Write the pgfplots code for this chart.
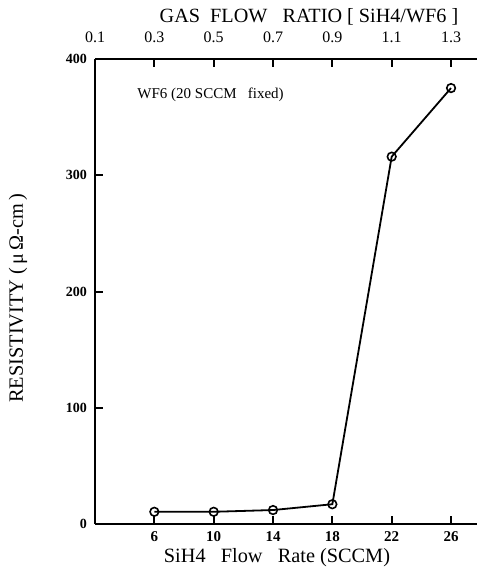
\documentclass[border=0pt]{standalone}
\usepackage{fontspec}
\setmainfont{Liberation Serif}
\usepackage{pgfplots}
\pgfplotsset{compat=1.18}

\pgfplotsset{
  common/.style={
    scale only axis, width=382pt, height=465pt,
    xmin=2, xmax=27.75, ymin=0, ymax=400,
    axis line style={line width=1.6pt},
    tick align=inside, tickwidth=8pt,
    every tick/.append style={black, line width=2pt},
    /pgf/number format/assume math mode=true,
  },
}

\begin{document}
\begin{tikzpicture}
% main axis (bottom + left)
\begin{axis}[
    common,
    axis x line*=bottom, axis y line*=left,
    clip=false,
    xtick={6,10,14,18,22,26},
    ytick={0,100,200,300,400},
    xticklabel style={font=\fontsize{15}{15}\selectfont\bfseries, anchor=base, yshift=-18pt},
    yticklabel style={font=\fontsize{14}{14}\selectfont\bfseries, anchor=east, inner sep=0pt, xshift=-8pt},
    xlabel={SiH4\ \ \ Flow\ \ \ Rate (SCCM)},
    xlabel style={font=\fontsize{20.3}{20.3}\selectfont, at={(axis description cs:0.5,0)},
                  anchor=base, xshift=-9pt, yshift=-38.5pt},
    ylabel={RESISTIVITY (\,μ\,Ω-cm\,)},
    ylabel style={font=\fontsize{20.3}{20.3}\selectfont, at={(axis description cs:-0.2016,0.486)},
                  anchor=center},
  ]
  \addplot[black, line width=1.8pt, mark=o, mark size=4.3pt,
           mark options={fill=white, line width=1.6pt}]
    coordinates {(6,10.5) (10,10.5) (14,12) (18,17) (22,316) (26,375)};
  \node[anchor=base west, inner sep=0pt, font=\fontsize{15}{15}\selectfont] at (axis cs:4.85,366) {WF6 (20 SCCM\ \ \ fixed)};
  \path (axis description cs:-0.2487,-0.1097) (axis description cs:1.0026,1.1269);
\end{axis}
% top axis (gas flow ratio)
\begin{axis}[
    common,
    axis x line*=top, axis y line=none,
    xtick={2,6,10,14,18,22,26},
    xticklabels={0.1,0.3,0.5,0.7,0.9,1.1,1.3},
    xticklabel style={font=\fontsize{16}{16}\selectfont, anchor=base, yshift=17pt},
    xlabel={GAS\ \ FLOW\ \ \ RATIO [ SiH4/WF6 ]},
    xlabel style={font=\fontsize{20.2}{20.2}\selectfont, at={(axis description cs:0.5,1)},
                  anchor=base, xshift=23pt, yshift=37pt},
  ]
\end{axis}
\end{tikzpicture}
\end{document}
